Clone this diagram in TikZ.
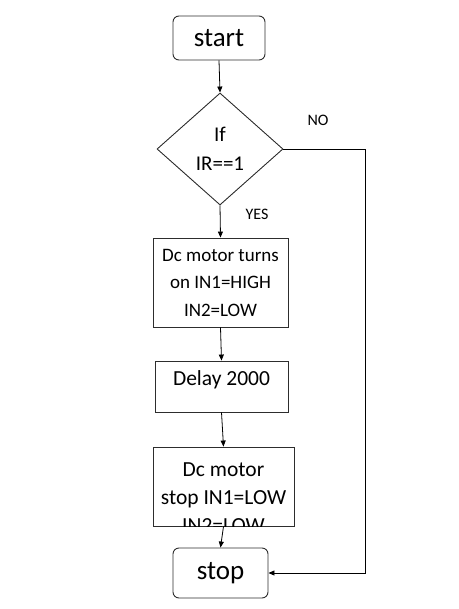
\documentclass[tikz,border=0pt]{standalone}
\usepackage{fontspec}
\setmainfont{Carlito}
\usepackage{tikz}
\usetikzlibrary{arrows.meta,positioning,shapes.geometric}
\definecolor{edgegray}{RGB}{45,45,45}

\begin{document}
\begin{tikzpicture}[x=1pt,y=-1pt,
  termbox/.style={draw=edgegray,line width=0.9pt,rounded corners=6pt,inner sep=0pt,font=\fontsize{27}{30}\selectfont},
  procbox/.style={draw=edgegray,line width=0.9pt,inner sep=0pt,align=center},
  flowarrow/.style={draw=black,line width=0.8pt,-{Triangle[length=6pt,width=5pt]}},
  tag/.style={font=\fontsize{16}{18}\selectfont}]
\useasboundingbox (0,0) rectangle (458,609);
\node[termbox,minimum width=92,minimum height=44] (start) at (219,38) {start};
\node[diamond,draw=edgegray,line width=0.9pt,inner sep=0pt,minimum width=126,minimum height=112,align=center,font=\fontsize{21}{29}\selectfont] (cond) at (220,149) {If\\IR==1};
\node[procbox,minimum width=135,minimum height=89,font=\fontsize{19}{27.5}\selectfont] (turnon) at (220.5,282.5) {Dc motor turns\\on IN1=HIGH\\IN2=LOW};
\node[procbox,minimum width=133,minimum height=51,text depth=16pt,font=\fontsize{21.5}{26}\selectfont] (delay) at (221.5,386.5) {Delay 2000};
\node[procbox,minimum width=141,minimum height=79] (stopmotor) at (223.5,486.5) {};
\begin{scope}
\clip (stopmotor.south west) rectangle (stopmotor.north east);
\node[align=center,inner sep=0pt,font=\fontsize{21.5}{28}\selectfont] (stopmotortext) at (223.5,498) {Dc motor\\stop IN1=LOW\\IN2=LOW};
\end{scope}
\node[termbox,minimum width=95,minimum height=50] (stop) at (220.5,573) {stop};
\node[tag] (yes) at (257,214) {YES};
\node[tag] (no) at (318,120) {NO};
\coordinate (nocorner) at (365,149);
\draw[flowarrow] (start.south) -- (cond.north);
\draw[flowarrow] (cond.south) -- (turnon.north);
\draw[flowarrow] (turnon.south) -- (delay.north);
\draw[flowarrow] (delay.south) -- (stopmotor.north);
\draw[flowarrow] (stopmotor.south) -- (stop.north);
\draw[flowarrow] (cond.east) -- (nocorner) |- (stop.east);
\end{tikzpicture}
\end{document}
